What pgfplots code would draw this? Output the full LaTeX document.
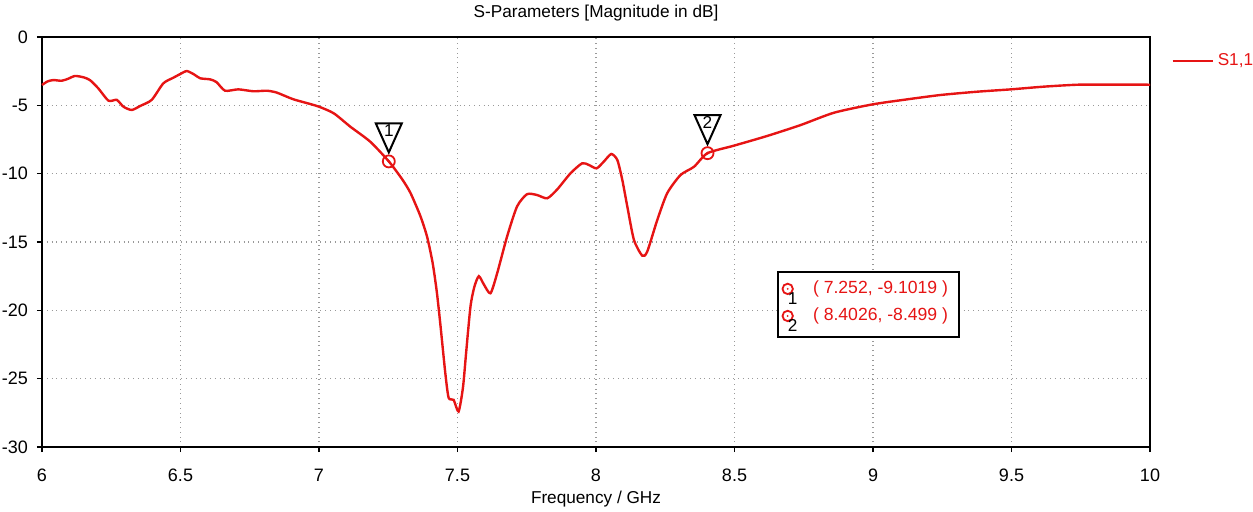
\documentclass[border=0pt]{standalone}
\usepackage{pgfplots}
\pgfplotsset{compat=1.18}
\usepackage{fontspec}
\setmainfont{Liberation Sans}
\definecolor{cstred}{RGB}{230,20,20}
\newcommand{\fs}{\fontsize{8.6}{10}\selectfont}
\begin{document}
\begin{tikzpicture}
\path[use as bounding box] (-21pt,-32pt) rectangle (605.5pt,223.5pt);
\begin{axis}[
  at={(0,0)}, anchor=south west,
  scale only axis, width=554pt, height=205pt,
  xmin=6, xmax=10, ymin=-30, ymax=0,
  xtick={6,6.5,...,10}, ytick={-30,-25,...,0},
  xticklabels={6,6.5,7,7.5,8,8.5,9,9.5,10},
  /pgf/number format/assume math mode=true,
  font=\fs,
  tick label style={font=\fontsize{9}{10}\selectfont},
  axis line style={black, line width=1pt},
  tick align=outside, major tick length=2.5pt,
  tick style={black, line width=0.6pt},
  xtick pos=left, ytick pos=left,
  grid=major,
  major grid style={gray!80, dotted, line width=0.7pt},
  xticklabel style={anchor=base, yshift=-14.5pt},
  yticklabel style={xshift=-1pt},
  xlabel={Frequency / GHz},
  xlabel style={at={(0.5,0)}, anchor=base, yshift=-28pt},
  legend style={at={(1.0135,0.98)}, anchor=north west, draw=none, fill=none,
    font=\fs, text=cstred},
  legend image code/.code={\draw[#1] (0pt,0pt) -- (20pt,0pt);},
  clip=false,
]
\addplot[cstred, line width=1.2pt, smooth, tension=0.4] coordinates {
(6.000,-3.51) (6.020,-3.25) (6.041,-3.15) (6.071,-3.20) (6.095,-3.05)
(6.119,-2.85) (6.150,-2.95) (6.173,-3.15) (6.203,-3.75) (6.240,-4.66)
(6.270,-4.60) (6.294,-5.10) (6.324,-5.34) (6.354,-5.05) (6.396,-4.60)
(6.438,-3.39) (6.474,-2.98) (6.500,-2.70) (6.523,-2.49) (6.550,-2.75)
(6.571,-3.02) (6.607,-3.10) (6.630,-3.30) (6.661,-3.93) (6.709,-3.83)
(6.763,-3.97) (6.812,-3.93) (6.848,-4.07) (6.908,-4.56) (6.993,-5.05)
(7.053,-5.58) (7.113,-6.56) (7.185,-7.66) (7.252,-9.10) (7.300,-10.4)
(7.330,-11.4) (7.366,-13.1) (7.390,-14.6) (7.410,-16.5) (7.425,-18.6) (7.438,-21.0)
(7.456,-24.6) (7.468,-26.4) (7.486,-26.55) (7.504,-27.4) (7.520,-25.6)
(7.532,-22.9) (7.547,-19.7) (7.561,-18.27) (7.577,-17.5) (7.595,-18.1)
(7.619,-18.75) (7.643,-17.3) (7.679,-14.6) (7.715,-12.4) (7.751,-11.5)
(7.787,-11.56) (7.824,-11.8) (7.860,-11.15) (7.908,-9.97) (7.950,-9.24)
(7.974,-9.36) (8.002,-9.61) (8.028,-9.12) (8.055,-8.56) (8.077,-9.0)
(8.095,-10.46) (8.113,-12.4) (8.137,-14.85) (8.167,-16.0) (8.185,-15.7)
(8.221,-13.4) (8.257,-11.43) (8.305,-10.1) (8.354,-9.49) (8.4026,-8.499)
(8.498,-7.95) (8.618,-7.24) (8.739,-6.44) (8.859,-5.54) (8.998,-4.93)
(9.124,-4.56) (9.245,-4.24) (9.377,-4.0) (9.498,-3.83) (9.618,-3.63)
(9.739,-3.49) (9.85,-3.48) (10,-3.49)
};
\addlegendentry{S1,1}
\addplot[only marks, mark=o, mark size=3pt, cstred, mark options={line width=0.9pt}, forget plot]
  coordinates {(7.252,-9.1019) (8.4026,-8.499)};
\addplot[only marks, mark=*, mark size=0.5pt, cstred, forget plot]
  coordinates {(7.252,-9.1019) (8.4026,-8.499)};
% title
\node[anchor=base, font=\fs] at ([yshift=10pt]rel axis cs:0.5,1) {S-Parameters [Magnitude in dB]};
% marker triangles
\draw[black, line width=1pt] ([yshift=4.5pt]axis cs:7.252,-9.1019) -- ++(-6.5pt,14.5pt) -- ++(13pt,0pt) -- cycle;
\node[font=\fs] at ([yshift=15.5pt]axis cs:7.252,-9.1019) {1};
\draw[black, line width=1pt] ([yshift=4.5pt]axis cs:8.4026,-8.499) -- ++(-6.5pt,14.5pt) -- ++(13pt,0pt) -- cycle;
\node[font=\fs] at ([yshift=15.5pt]axis cs:8.4026,-8.499) {2};
% data box
\draw[black, line width=1pt, fill=white] (axis cs:8.656,-17.19) rectangle (axis cs:9.31,-21.95);
\draw[cstred, line width=0.9pt] (axis cs:8.692,-18.43) circle (2.6pt);
\fill[cstred] (axis cs:8.692,-18.43) circle (0.5pt);
\draw[cstred, line width=0.9pt] (axis cs:8.692,-20.41) circle (2.6pt);
\fill[cstred] (axis cs:8.692,-20.41) circle (0.5pt);
\node[font=\fs] at (axis cs:8.71,-19.15) {1};
\node[font=\fs] at (axis cs:8.71,-21.13) {2};
\node[anchor=west, inner sep=0pt, text=cstred, font=\fontsize{8.8}{10}\selectfont] at (axis cs:8.782,-18.43) {( 7.252, -9.1019 )};
\node[anchor=west, inner sep=0pt, text=cstred, font=\fontsize{8.8}{10}\selectfont] at (axis cs:8.782,-20.41) {( 8.4026, -8.499 )};
\end{axis}
\end{tikzpicture}
\end{document}
